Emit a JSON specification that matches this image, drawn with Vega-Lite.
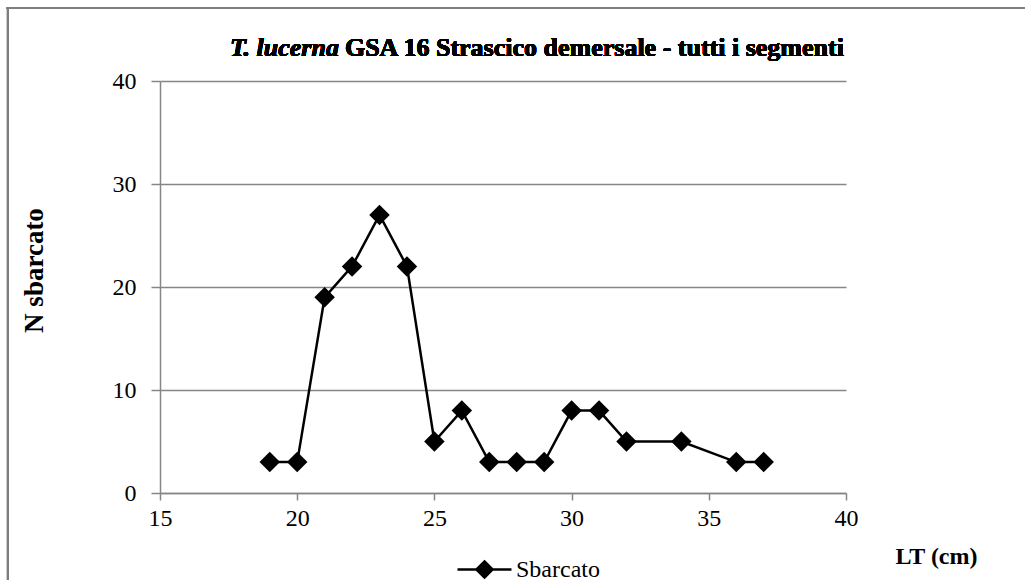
{
  "$schema": "https://vega.github.io/schema/vega-lite/v6.json",
  "autosize": "none",
  "width": 686,
  "height": 412,
  "padding": {"left": 160, "top": 81, "right": 179, "bottom": 87},
  "background": "white",
  "config": {
    "view": {"stroke": null},
    "font": "Liberation Serif",
    "axis": {"labelFont": "Liberation Serif", "titleFont": "Liberation Serif", "labelColor": "black", "titleColor": "black"},
    "legend": {"labelFont": "Liberation Serif"}
  },
  "data": {
    "values": [
      {"LT": 19, "N": 3, "serie": "Sbarcato"},
      {"LT": 20, "N": 3, "serie": "Sbarcato"},
      {"LT": 21, "N": 19, "serie": "Sbarcato"},
      {"LT": 22, "N": 22, "serie": "Sbarcato"},
      {"LT": 23, "N": 27, "serie": "Sbarcato"},
      {"LT": 24, "N": 22, "serie": "Sbarcato"},
      {"LT": 25, "N": 5, "serie": "Sbarcato"},
      {"LT": 26, "N": 8, "serie": "Sbarcato"},
      {"LT": 27, "N": 3, "serie": "Sbarcato"},
      {"LT": 28, "N": 3, "serie": "Sbarcato"},
      {"LT": 29, "N": 3, "serie": "Sbarcato"},
      {"LT": 30, "N": 8, "serie": "Sbarcato"},
      {"LT": 31, "N": 8, "serie": "Sbarcato"},
      {"LT": 32, "N": 5, "serie": "Sbarcato"},
      {"LT": 34, "N": 5, "serie": "Sbarcato"},
      {"LT": 36, "N": 3, "serie": "Sbarcato"},
      {"LT": 37, "N": 3, "serie": "Sbarcato"}
    ]
  },
  "encoding": {
    "x": {
      "field": "LT", "type": "quantitative",
      "scale": {"domain": [15, 40], "nice": false, "zero": false},
      "axis": {
        "values": [15, 20, 25, 30, 35, 40],
        "grid": false,
        "domainColor": "#868686", "domainWidth": 1.5,
        "tickColor": "#868686", "tickWidth": 1.5, "tickSize": 7,
        "labelFontSize": 24, "labelPadding": 6, "labelFlush": false,
        "title": "LT (cm)", "titleFontSize": 24, "titleFontWeight": "bold",
        "titleX": 776, "titleY": 63, "titleAlign": "center", "titleBaseline": "middle"
      }
    },
    "y": {
      "field": "N", "type": "quantitative",
      "scale": {"domain": [0, 40], "nice": false},
      "axis": {
        "values": [0, 10, 20, 30, 40],
        "grid": true, "gridColor": "#868686", "gridWidth": 1.5,
        "domainColor": "#868686", "domainWidth": 1.5,
        "tickColor": "#868686", "tickWidth": 1.5, "tickSize": 9,
        "labelFontSize": 24, "labelPadding": 15,
        "title": "N sbarcato", "titleFontSize": 27, "titleFontWeight": "bold",
        "titleAngle": -90, "titleX": -126, "titleY": 189, "titleAlign": "center", "titleBaseline": "middle"
      }
    }
  },
  "layer": [
    {
      "mark": {"type": "rule", "color": "#7f7f7f", "strokeWidth": 2, "clip": false},
      "encoding": {
        "x": {"datum": 9.42},
        "x2": {"datum": 48},
        "y": {"datum": 47.09}
      }
    },
    {
      "mark": {"type": "rule", "color": "#7f7f7f", "strokeWidth": 2, "clip": false},
      "encoding": {
        "x": {"datum": 9.46},
        "y": {"datum": 47.09},
        "y2": {"datum": -10}
      }
    },
    {
      "mark": {
        "type": "line", "strokeWidth": 2.5,
        "point": {"shape": "diamond", "size": 420, "filled": true, "opacity": 1}
      },
      "encoding": {
        "color": {
          "field": "serie", "type": "nominal",
          "scale": {"range": ["black"]},
          "legend": {
            "title": null, "orient": "none", "legendX": 296, "legendY": 460,
            "symbolType": "M-1,0L1,0M0,-0.3L0.3,0L0,0.3L-0.3,0Z",
            "symbolSize": 2916, "symbolStrokeWidth": 2.5,
            "symbolStrokeColor": "black", "symbolFillColor": "black",
            "labelFontSize": 24, "labelColor": "black", "labelOffset": 3, "padding": 0
          }
        }
      }
    },
    {
      "mark": {"type": "text", "text": "T. lucerna", "font": "Liberation Serif", "fontSize": 26, "fontWeight": "bold", "fontStyle": "italic", "align": "right", "baseline": "alphabetic", "dx": -3, "color": "black", "clip": false},
      "encoding": {"x": {"datum": 21.63}, "y": {"datum": 42.4}}
    },
    {
      "mark": {"type": "text", "text": "GSA 16 Strascico demersale - tutti i segmenti", "font": "Liberation Serif", "fontSize": 26, "fontWeight": "bold", "align": "left", "baseline": "alphabetic", "dx": 3, "color": "black", "clip": false},
      "encoding": {"x": {"datum": 21.63}, "y": {"datum": 42.4}}
    }
  ]
}
